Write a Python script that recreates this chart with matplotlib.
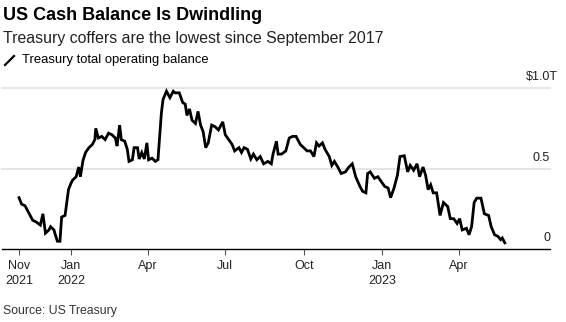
import matplotlib
matplotlib.use("Agg")
import matplotlib.pyplot as plt
from matplotlib.lines import Line2D
import pandas as pd

plt.rcParams["font.family"] = ["Liberation Sans", "DejaVu Sans"]

# Treasury total operating balance, trillions of dollars
dates = [
    "2021-11-01", "2021-11-04", "2021-11-08", "2021-11-11", "2021-11-17", "2021-11-21",
    "2021-11-26", "2021-11-29", "2021-12-02", "2021-12-06", "2021-12-08", "2021-12-12",
    "2021-12-13", "2021-12-16", "2021-12-19", "2021-12-21", "2021-12-25", "2021-12-27",
    "2021-12-29", "2022-01-01", "2022-01-03", "2022-01-07", "2022-01-10", "2022-01-12",
    "2022-01-15", "2022-01-18", "2022-01-22", "2022-01-26", "2022-01-29", "2022-01-30",
    "2022-02-02", "2022-02-06", "2022-02-10", "2022-02-14", "2022-02-18", "2022-02-22",
    "2022-02-24", "2022-02-27", "2022-03-01", "2022-03-05", "2022-03-08", "2022-03-10",
    "2022-03-14", "2022-03-16", "2022-03-20", "2022-03-22", "2022-03-25", "2022-03-28",
    "2022-03-31", "2022-04-02", "2022-04-06", "2022-04-10", "2022-04-13", "2022-04-17",
    "2022-04-19", "2022-04-23", "2022-04-27", "2022-05-01", "2022-05-03", "2022-05-08",
    "2022-05-12", "2022-05-15", "2022-05-17", "2022-05-20", "2022-05-23", "2022-05-27",
    "2022-05-30", "2022-06-02", "2022-06-05", "2022-06-08", "2022-06-11", "2022-06-15",
    "2022-06-19", "2022-06-23", "2022-06-28", "2022-07-01", "2022-07-05", "2022-07-09",
    "2022-07-12", "2022-07-17", "2022-07-20", "2022-07-23", "2022-07-27", "2022-07-31",
    "2022-08-03", "2022-08-07", "2022-08-11", "2022-08-15", "2022-08-20", "2022-08-24",
    "2022-08-26", "2022-08-30", "2022-09-01", "2022-09-05", "2022-09-10", "2022-09-14",
    "2022-09-18", "2022-09-22", "2022-09-27", "2022-10-01", "2022-10-05", "2022-10-09",
    "2022-10-13", "2022-10-16", "2022-10-19", "2022-10-23", "2022-10-26", "2022-10-31",
    "2022-11-03", "2022-11-06", "2022-11-10", "2022-11-14", "2022-11-19", "2022-11-23",
    "2022-11-27", "2022-12-01", "2022-12-06", "2022-12-09", "2022-12-13", "2022-12-15",
    "2022-12-18", "2022-12-23", "2022-12-27", "2022-12-31", "2023-01-04", "2023-01-08",
    "2023-01-11", "2023-01-15", "2023-01-19", "2023-01-22", "2023-01-27", "2023-01-31",
    "2023-02-03", "2023-02-07", "2023-02-11", "2023-02-14", "2023-02-18", "2023-02-21",
    "2023-02-24", "2023-02-27", "2023-03-02", "2023-03-06", "2023-03-10", "2023-03-14",
    "2023-03-19", "2023-03-22", "2023-03-26", "2023-03-30", "2023-04-02", "2023-04-05",
    "2023-04-10", "2023-04-13", "2023-04-16", "2023-04-19", "2023-04-22", "2023-04-27",
    "2023-05-01", "2023-05-06", "2023-05-09", "2023-05-13", "2023-05-17", "2023-05-20",
    "2023-05-22", "2023-05-25",
]
balance = [
    0.32, 0.28, 0.27, 0.24, 0.18, 0.17,
    0.15, 0.22, 0.10, 0.12, 0.14, 0.12,
    0.10, 0.05, 0.05, 0.20, 0.21, 0.29,
    0.37, 0.41, 0.43, 0.45, 0.51, 0.45,
    0.55, 0.60, 0.63, 0.65, 0.68, 0.75,
    0.69, 0.70, 0.68, 0.72, 0.71, 0.69,
    0.64, 0.77, 0.68, 0.67, 0.62, 0.545,
    0.555, 0.63, 0.63, 0.56, 0.60, 0.56,
    0.66, 0.555, 0.565, 0.545, 0.555, 0.845,
    0.93, 0.98, 0.94, 0.98, 0.97, 0.97,
    0.91, 0.90, 0.83, 0.87, 0.80, 0.78,
    0.855, 0.77, 0.73, 0.63, 0.66, 0.77,
    0.76, 0.74, 0.79, 0.71, 0.68, 0.65,
    0.61, 0.63, 0.60, 0.63, 0.62, 0.56,
    0.59, 0.555, 0.575, 0.53, 0.545, 0.53,
    0.59, 0.67, 0.59, 0.59, 0.61, 0.69,
    0.70, 0.70, 0.65, 0.63, 0.61, 0.61,
    0.575, 0.66, 0.64, 0.66, 0.62, 0.575,
    0.52, 0.545, 0.51, 0.47, 0.48, 0.51,
    0.53, 0.45, 0.39, 0.36, 0.35, 0.47,
    0.48, 0.44, 0.45, 0.42, 0.39, 0.38,
    0.32, 0.38, 0.46, 0.575, 0.58, 0.48,
    0.52, 0.49, 0.53, 0.45, 0.51, 0.46,
    0.37, 0.40, 0.35, 0.35, 0.21, 0.29,
    0.265, 0.19, 0.19, 0.16, 0.19, 0.12,
    0.13, 0.09, 0.14, 0.29, 0.317, 0.317,
    0.22, 0.21, 0.14, 0.09, 0.08, 0.06,
    0.07, 0.04,
]

tick_dates = ["2021-11-01", "2022-01-01", "2022-04-01", "2022-07-01",
              "2022-10-01", "2023-01-01", "2023-04-01"]
tick_labels = ["Nov\n2021", "Jan\n2022", "Apr", "Jul", "Oct", "Jan\n2023", "Apr"]
y_values = [0, 0.5, 1.0]
y_labels = ["0", "0.5", "$1.0T"]

W, H = 566, 322
fig = plt.figure(figsize=(W / 100, H / 100), dpi=100)
fig.patch.set_facecolor("white")


def fx(px):
    return px / W


def fy(py):
    return 1 - py / H


ax = fig.add_axes([fx(2), fy(249.3), fx(550) - fx(2), fy(88) - fy(249.3)])
ax.set_facecolor("white")

x = pd.to_datetime(dates)
ax.plot(x, balance, color="black", lw=2.0, solid_joinstyle="miter", zorder=3)

ax.set_xlim(pd.Timestamp("2021-10-12"), pd.Timestamp("2023-07-17"))
ax.set_ylim(0, 1.0)

for v in y_values[1:]:
    ax.axhline(v, color="#e3e3e3", lw=1.3, zorder=1, clip_on=False)

for side in ["top", "right", "left"]:
    ax.spines[side].set_visible(False)
ax.spines["bottom"].set_color("black")
ax.spines["bottom"].set_linewidth(1.0)

ax.set_yticks([])
ax.set_xticks(pd.to_datetime(tick_dates))
ax.set_xticklabels(tick_labels, fontsize=9, color="#222222", linespacing=1.3)
ax.tick_params(axis="x", length=4, width=0.8, color="#555555", pad=4)

# Value labels sitting above the gridlines on the right
for v, lab in zip(y_values, y_labels):
    dx = 0 if lab != "$1.0T" else 7.5
    ax.annotate(lab, xy=(1.0, v), xycoords=ax.get_yaxis_transform(),
                xytext=(dx, 8), textcoords="offset pixels", ha="right",
                va="baseline", fontsize=9, color="#222222", annotation_clip=False)

fig.text(fx(3), fy(15), "US Cash Balance Is Dwindling", fontsize=13.0,
         fontweight="bold", color="black", va="center", ha="left")
fig.text(fx(3), fy(38), "Treasury coffers are the lowest since September 2017",
         fontsize=11.4, color="#222222", va="center", ha="left")

fig.add_artist(Line2D([fx(5), fx(14)], [fy(65), fy(56)], color="black", lw=1.6,
                      transform=fig.transFigure))
fig.text(fx(22), fy(60), "Treasury total operating balance", fontsize=9.4,
         color="black", va="center", ha="left")

fig.text(fx(3), fy(311), "Source: US Treasury", fontsize=8.8, color="#333333",
         va="center", ha="left")

fig.savefig("out.png", dpi=100, facecolor="white")
